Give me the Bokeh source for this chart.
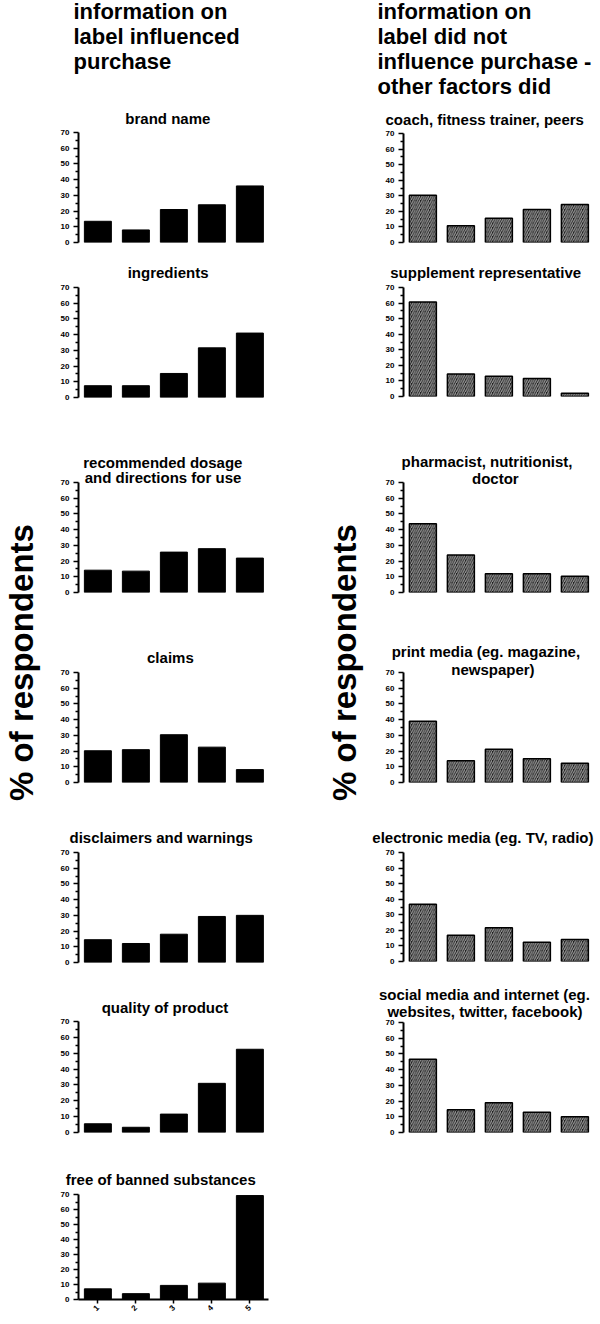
from math import pi
from bokeh.plotting import figure
from bokeh.models import Range1d, FixedTicker, Label, Title
from bokeh.layouts import row, column
from bokeh.embed import file_html
from bokeh.resources import INLINE

# ---------------- data ----------------
categories = [1, 2, 3, 4, 5]
y_ticks = [0, 10, 20, 30, 40, 50, 60, 70]

left_header = ["information on", "label influenced", "purchase"]
right_header = ["information on", "label did not", "influence purchase -", "other factors did"]
y_label = "% of respondents"

brand_name = [13.5, 8, 21, 24, 36]
ingredients = [7.5, 7.5, 15.3, 31.6, 41]
dosage = [14.2, 13.6, 25.7, 27.9, 21.9]
claims = [20.2, 20.9, 30.4, 22.5, 8.2]
disclaimers = [14.5, 12.1, 18, 29.3, 30]
quality = [5.5, 3.3, 11.6, 31, 52.5]
banned = [7.1, 3.9, 9.4, 10.9, 69.3]

coach = [30.4, 10.8, 15.5, 21.2, 24.4]
supplement_rep = [60.7, 14.4, 13, 11.5, 2.1]
pharmacist = [43.8, 23.8, 11.9, 11.9, 10.4]
print_media = [39, 13.8, 21.2, 15.1, 12.3]
electronic_media = [36.7, 16.9, 21.7, 12.4, 14.2]
social_media = [46.6, 14.4, 18.9, 12.9, 10]

left_titles = [["brand name"], ["ingredients"],
               ["recommended dosage", "and directions for use"], ["claims"],
               ["disclaimers and warnings"], ["quality of product"],
               ["free of banned substances"]]
right_titles = [["coach, fitness trainer, peers"], ["supplement representative"],
                ["pharmacist, nutritionist,", "doctor"],
                ["print media (eg. magazine,", "newspaper)"],
                ["electronic media (eg. TV, radio)"],
                ["social media and internet (eg.", "websites, twitter, facebook)"]]
left_values = [brand_name, ingredients, dosage, claims, disclaimers, quality, banned]
right_values = [coach, supplement_rep, pharmacist, print_media, electronic_media, social_media]

# ---------------- layout ----------------
FONT = "Liberation Sans"
TITLE_PX = 15
HEAD_H = 101
BODY_H = 1324 - HEAD_H
# (top border, frame height, bottom border)
left_geom = [(31, 110, 6), (39, 110, 6), (79, 110, 6), (74, 110, 6),
             (64, 110, 6), (53, 111, 6), (56, 105, 25)]
right_geom = [(32, 109, 6), (39, 109, 6), (80, 110, 6), (74, 110, 6),
              (64, 109, 6), (55, 110, 6)]
# title standoffs, line nearest to the frame first
left_standoff = [[11], [13], [-7, 0], [13], [13], [11], [13]]
right_standoff = [[12], [13], [-9, 5], [-10, 8], [13], [5, -9]]

# Liberation Sans Bold advance widths (Arial-metric compatible), per 1000 em
_W = {' ': 278, ',': 278, '.': 278, '-': 333, '(': 333, ')': 333, 'T': 611, 'V': 667,
      'a': 556, 'b': 611, 'c': 556, 'd': 611, 'e': 556, 'f': 333, 'g': 611, 'h': 611,
      'i': 278, 'j': 278, 'k': 556, 'l': 278, 'm': 889, 'n': 611, 'o': 611, 'p': 611,
      'q': 611, 'r': 389, 's': 556, 't': 333, 'u': 611, 'v': 556, 'w': 778, 'x': 556,
      'y': 556, 'z': 500}


def text_width(s, px):
    return sum(_W.get(c, 556) for c in s) * px / 1000.0


def blank(w, h):
    p = figure(width=w, height=h, x_range=Range1d(0, w), y_range=Range1d(h, 0),
               x_axis_location=None, y_axis_location=None, title=None,
               output_backend="svg", toolbar_location=None,
               min_border_left=0, min_border_right=0, min_border_top=0, min_border_bottom=0)
    p.outline_line_color = None
    p.grid.visible = False
    return p


def panel(values, titles, geom, standoffs, width, bl, br, hatched, x_axis):
    top, fh, bottom = geom
    p = figure(width=width, height=top + fh + bottom, title=None,
               x_range=Range1d(0.49, 5.49), y_range=Range1d(0, 70),
               x_axis_location="below" if x_axis else None, y_axis_location="left",
               output_backend="svg", toolbar_location=None,
               min_border_left=bl, min_border_right=br,
               min_border_top=top, min_border_bottom=bottom)
    p.outline_line_color = None
    p.grid.visible = False
    # titles: line nearest the frame first
    for line, so in zip(reversed(titles), standoffs):
        w = text_width(line, TITLE_PX)
        p.add_layout(Title(text=line, align="left", offset=95 - 0.567 * w,
                           standoff=so, text_font=FONT, text_font_size=f"{TITLE_PX}px",
                           text_font_style="bold", text_color="black"), "above")
    if hatched:
        p.vbar(x=categories, top=values, width=0.71, bottom=0,
               fill_color="#1c1c1c", hatch_pattern="/", hatch_color="#9a9a9a",
               hatch_scale=4.5, hatch_weight=1.2, line_color="black", line_width=1.5)
    else:
        p.vbar(x=categories, top=values, width=0.71, bottom=0,
               fill_color="black", line_color="black", line_width=1)
    ya = p.yaxis[0]
    ya.ticker = FixedTicker(ticks=y_ticks, minor_ticks=[v + 5 for v in y_ticks[:-1]])
    ya.axis_line_width = 2
    ya.major_tick_line_width = 1.5
    ya.minor_tick_line_width = 1.5
    ya.major_tick_out = 5
    ya.major_tick_in = 0
    ya.minor_tick_out = 3
    ya.minor_tick_in = 0
    ya.major_label_text_font = FONT
    ya.major_label_text_font_size = "8px"
    ya.major_label_text_font_style = "bold"
    ya.major_label_text_color = "black"
    ya.major_label_standoff = 4
    if x_axis:
        xa = p.xaxis[0]
        xa.ticker = FixedTicker(ticks=categories)
        xa.axis_line_width = 2
        xa.major_tick_line_width = 1.5
        xa.major_tick_out = 4
        xa.major_tick_in = 0
        xa.minor_tick_out = 0
        xa.major_label_orientation = pi / 4
        xa.major_label_text_font = FONT
        xa.major_label_text_font_size = "8px"
        xa.major_label_text_font_style = "bold"
        xa.major_label_text_color = "black"
        xa.major_label_standoff = 3
    return p


# header across the full width
head = blank(600, HEAD_H)
for i, t in enumerate(left_header):
    head.add_layout(Label(x=73, y=11 + i * 25, text=t, text_align="left",
                          text_baseline="middle", text_font=FONT, text_color="black",
                          text_font_size="22px", text_font_style="bold"))
for i, t in enumerate(right_header):
    head.add_layout(Label(x=377, y=11 + i * 25, text=t, text_align="left",
                          text_baseline="middle", text_font=FONT, text_color="black",
                          text_font_size="22px", text_font_style="bold"))

LW, RW = 255, 234
left_figs = [panel(v, tl, left_geom[i], left_standoff[i], LW, 33, 32, False,
                   i == len(left_values) - 1)
             for i, (v, tl) in enumerate(zip(left_values, left_titles))]
right_figs = [panel(v, tl, right_geom[i], right_standoff[i], RW, 37, 7, True, False)
              for i, (v, tl) in enumerate(zip(right_values, right_titles))]

labL = blank(45, BODY_H)
labL.add_layout(Label(x=21, y=662 - HEAD_H, text=y_label, angle=pi / 2, text_align="center",
                      text_baseline="middle", text_font=FONT, text_font_size="33px",
                      text_font_style="bold", text_color="black"))
labR = blank(66, BODY_H)
labR.add_layout(Label(x=44, y=662 - HEAD_H, text=y_label, angle=pi / 2, text_align="center",
                      text_baseline="middle", text_font=FONT, text_font_size="33px",
                      text_font_style="bold", text_color="black"))

layout = column(head, row(labL, column(*left_figs), labR, column(*right_figs)))

with open("out.html", "w") as f:
    f.write(file_html(layout, INLINE))
